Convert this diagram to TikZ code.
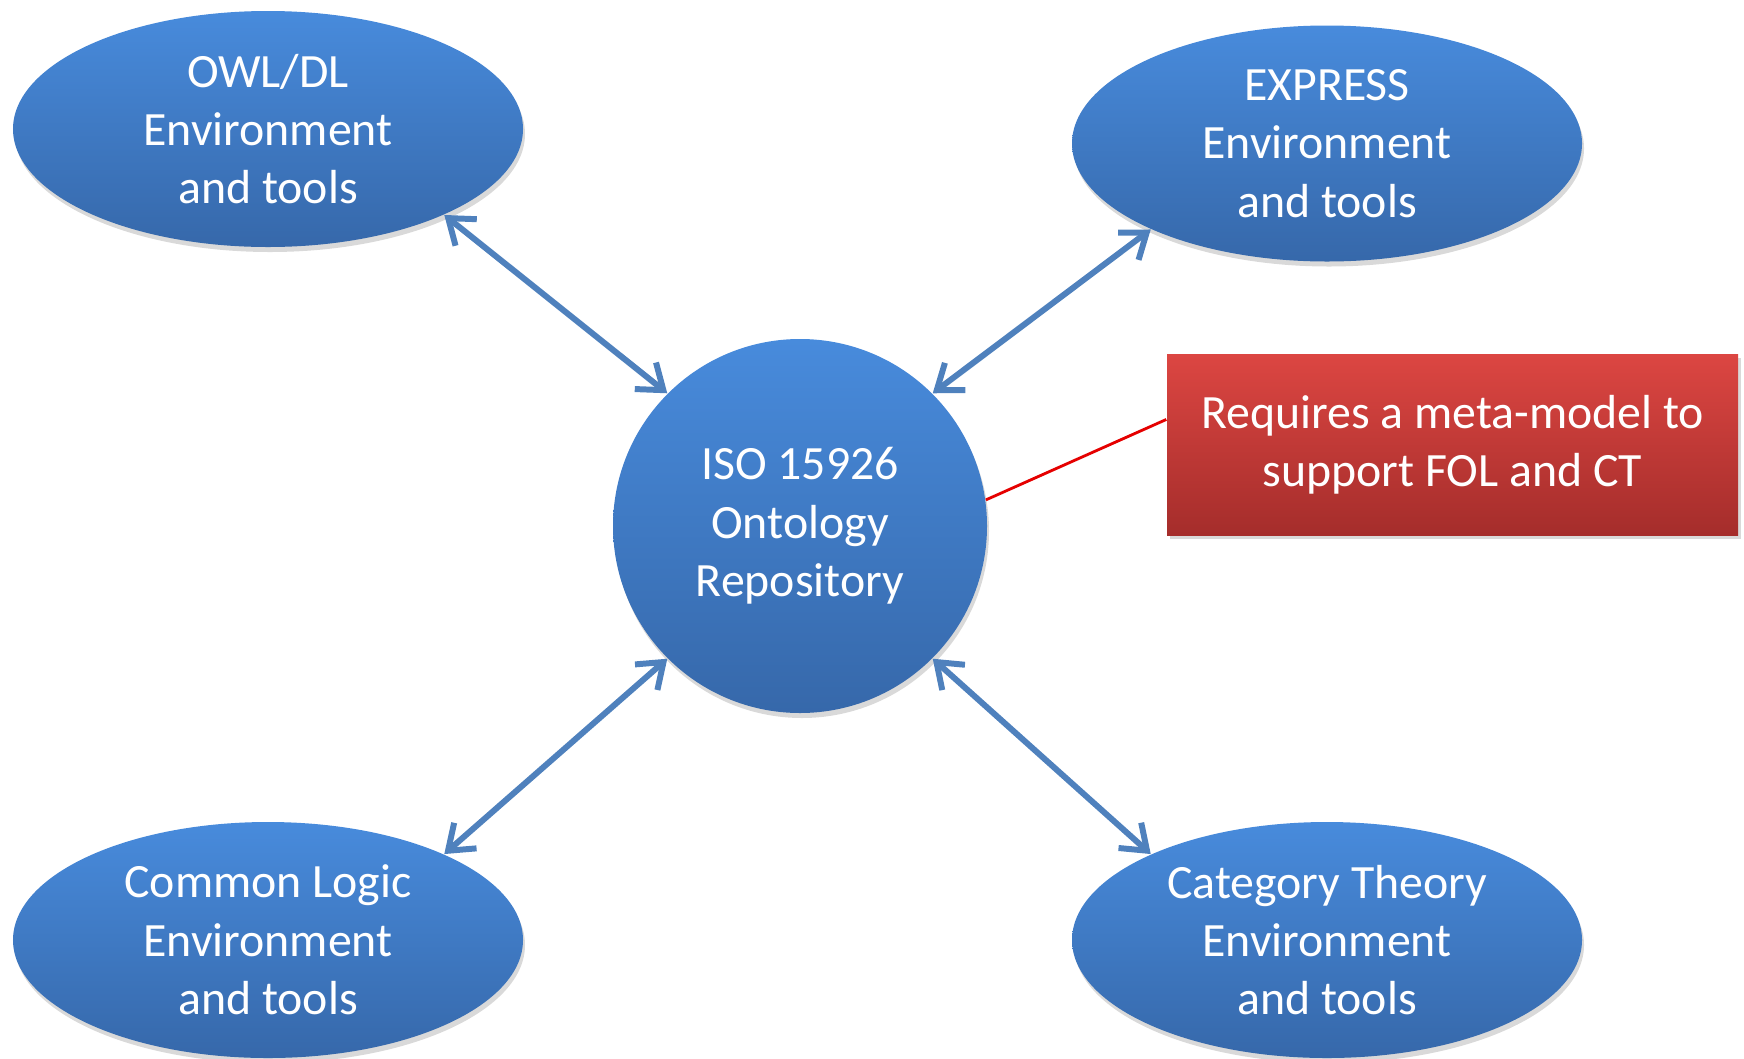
\documentclass[tikz,border=0pt]{standalone}
\usepackage{fontspec}
\setmainfont{Carlito}
\usetikzlibrary{shapes.geometric,arrows.meta,shadows}
\definecolor{topblue}{RGB}{72,139,220}
\definecolor{botblue}{RGB}{54,104,170}
\definecolor{arrowblue}{RGB}{79,129,189}
\definecolor{topred}{RGB}{220,70,66}
\definecolor{botred}{RGB}{165,45,43}
\begin{document}
\begin{tikzpicture}[env/.style={
	ellipse, minimum width=5.1cm, minimum height=2.36cm, inner sep=0pt,
	top color=topblue, bottom color=botblue,
	drop shadow={opacity=0.3, shadow xshift=0.02cm, shadow yshift=-0.05cm},
	text=white, align=center, font=\fontsize{13.6}{16.6}\selectfont},
	repo/.style={env, circle, minimum size=3.74cm},
	note/.style={
	rectangle, minimum width=5.71cm, minimum height=1.81cm, inner sep=0pt,
	top color=topred, bottom color=botred,
	drop shadow={opacity=0.3, shadow xshift=0.03cm, shadow yshift=-0.04cm},
	text=white, align=center, font=\fontsize{13.6}{16.6}\selectfont},
	link/.style={{Straight Barb[length=2.3mm,width=3.4mm]}-{Straight Barb[length=2.3mm,width=3.4mm]},
	draw=arrowblue, line width=1.7pt}]
	\useasboundingbox (0,0) rectangle (17.44,10.58);
	\node[repo] (iso) at (8.00,5.32) {ISO 15926\\Ontology\\Repository};
	\node[env] (owl) at (2.68,9.29) {OWL/DL\\Environment\\and tools};
	\node[env] (express) at (13.27,9.145) {EXPRESS\\Environment\\and tools};
	\node[env] (cl) at (2.68,1.18) {Common Logic\\Environment\\and tools};
	\node[env] (ct) at (13.27,1.18) {Category Theory\\Environment\\and tools};
	\node[note] (req) at (14.525,6.135) {Requires a meta-model to\\support FOL and CT};
	\draw[link] (owl.-26) -- (iso.135);
	\draw[link] (express.206) -- (iso.45);
	\draw[link] (cl.26) -- (iso.225);
	\draw[link] (ct.154) -- (iso.-45);
	\draw[red!90!black, line width=0.8pt] (iso.8) -- (req.175);
\end{tikzpicture}
\end{document}
